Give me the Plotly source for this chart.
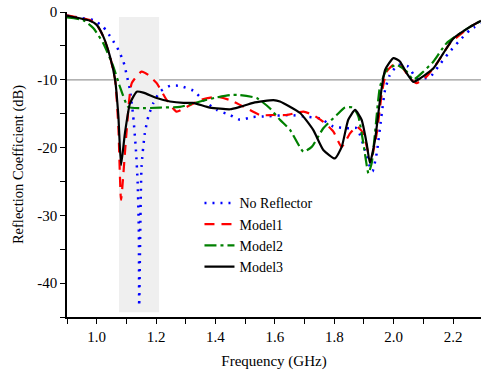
import plotly.graph_objects as go

# No Reflector (blue dotted)
nr_x = [0.90, 0.95, 0.989, 1.022, 1.05, 1.073, 1.09, 1.101, 1.112, 1.123, 1.132, 1.138, 1.142, 1.143,
        1.151, 1.162, 1.174, 1.19, 1.213, 1.247, 1.28, 1.325, 1.359, 1.404, 1.449, 1.482, 1.527, 1.572,
        1.651, 1.696, 1.752, 1.797, 1.842, 1.876, 1.903, 1.92, 1.929, 1.943, 1.96, 1.971, 1.987,
        2.015, 2.049, 2.077, 2.122, 2.15, 2.184, 2.218, 2.257, 2.294]
nr_y = [-0.55, -0.9, -1.2, -2.2, -3.9, -5.6, -7.3, -9.3, -11.5, -15.4, -20.3, -25.3, -32.6, -43.4,
        -22.8, -17.9, -15.4, -13.5, -11.75, -10.9, -10.9, -11.6, -13.0, -14.45, -15.2, -15.9, -15.5, -15.4,
        -15.2, -15.4, -15.7, -16.9, -17.15, -17.15, -20.35, -22.8, -23.5, -20.8, -14.9, -11.5, -9.3,
        -7.8, -8.05, -9.8, -9.6, -8.05, -6.1, -4.4, -2.65, -1.7]

# Model1 (red dashed)
m1_x = [0.90, 0.977, 1.0, 1.022, 1.045, 1.062, 1.073, 1.082, 1.10, 1.118, 1.151, 1.174, 1.202, 1.236,
        1.269, 1.303, 1.348, 1.404, 1.449, 1.505, 1.55, 1.595, 1.64, 1.696, 1.729, 1.763, 1.797, 1.825,
        1.853, 1.876, 1.898, 1.915, 1.926, 1.943, 1.96, 1.976, 1.999, 2.027, 2.055, 2.077, 2.111,
        2.145, 2.19, 2.257, 2.294]
m1_y = [-0.5, -1.2, -1.9, -3.6, -6.6, -10.0, -17.0, -27.7, -18.0, -10.5, -8.8, -9.3, -10.5, -13.0,
        -14.7, -14.0, -13.0, -12.5, -13.0, -14.2, -15.2, -15.2, -15.2, -14.7, -15.2, -16.2, -17.65, -19.9,
        -17.9, -16.9, -17.9, -20.8, -21.3, -17.9, -12.0, -8.8, -7.8, -8.1, -9.8, -10.5, -9.5,
        -7.6, -4.6, -2.2, -1.3]

# Model2 (green dash-dot)
m2_x = [0.90, 0.955, 0.989, 1.022, 1.056, 1.078, 1.106, 1.146, 1.213, 1.28, 1.348, 1.404, 1.449, 1.482,
        1.539, 1.583, 1.617, 1.651, 1.696, 1.724, 1.763, 1.808, 1.836, 1.864, 1.881, 1.898, 1.915,
        1.926, 1.937, 1.954, 1.976, 2.01, 2.044, 2.066, 2.10, 2.134, 2.178, 2.257, 2.294]
m2_y = [-0.8, -1.2, -2.4, -4.6, -8.05, -11.0, -14.0, -14.2, -14.1, -14.0, -13.2, -12.6, -12.25, -12.25,
        -12.7, -14.2, -15.9, -17.4, -20.6, -19.9, -17.15, -15.2, -14.1, -14.1, -15.4, -19.4, -23.8,
        -22.3, -17.9, -11.0, -8.55, -7.8, -8.8, -10.0, -8.8, -7.3, -4.6, -2.2, -1.3]

# Model3 (black solid)
m3_x = [0.90, 0.977, 1.0, 1.022, 1.045, 1.062, 1.073, 1.082, 1.095, 1.112, 1.135, 1.157, 1.202, 1.247,
        1.292, 1.325, 1.381, 1.449, 1.482, 1.527, 1.595, 1.617, 1.685, 1.729, 1.763, 1.802, 1.825,
        1.847, 1.87, 1.892, 1.909, 1.92, 1.937, 1.954, 1.971, 1.999, 2.021, 2.044, 2.066, 2.089,
        2.134, 2.167, 2.201, 2.257, 2.294]
m3_y = [-0.55, -1.28, -1.9, -3.6, -6.6, -10.0, -15.4, -22.6, -17.9, -13.5, -11.75, -11.9, -12.7, -13.2,
        -13.4, -13.4, -14.1, -14.35, -14.0, -13.4, -13.0, -13.2, -14.9, -17.4, -20.35, -21.6, -19.9,
        -15.9, -14.45, -15.9, -19.4, -22.3, -18.9, -13.0, -8.55, -6.8, -7.3, -9.05, -10.3, -9.8,
        -8.3, -6.1, -3.9, -2.2, -1.3]

x_ticks = [1.0, 1.2, 1.4, 1.6, 1.8, 2.0, 2.2]
y_ticks = [0, -10, -20, -30, -40]

FONT = "Liberation Serif, Times New Roman, serif"

fig = go.Figure()
fig.add_shape(type="rect", xref="x", yref="y", x0=1.075, x1=1.21, y0=-44.3, y1=-0.75,
              fillcolor="#efefef", line=dict(width=0), layer="below")
fig.add_shape(type="line", xref="paper", yref="y", x0=0, x1=1, y0=-10, y1=-10,
              line=dict(color="#999999", width=1.2), layer="below")

fig.add_trace(go.Scatter(x=nr_x, y=nr_y, name="No Reflector", mode="lines",
                         line=dict(color="#0000ff", width=2.5, dash="2px,6px", shape="spline", smoothing=0.5)))
fig.add_trace(go.Scatter(x=m1_x, y=m1_y, name="Model1", mode="lines",
                         line=dict(color="#ff0000", width=2.2, dash="10px,7px", shape="spline", smoothing=0.5)))
fig.add_trace(go.Scatter(x=m2_x, y=m2_y, name="Model2", mode="lines",
                         line=dict(color="#008000", width=2.2, dash="12px,4px,3px,4px", shape="spline", smoothing=0.5)))
fig.add_trace(go.Scatter(x=m3_x, y=m3_y, name="Model3", mode="lines",
                         line=dict(color="#000000", width=2.2, shape="spline", smoothing=0.5)))

fig.update_layout(
    width=481, height=376,
    margin=dict(l=67, r=0, t=12, b=59),
    paper_bgcolor="white", plot_bgcolor="white",
    font=dict(family=FONT, size=15, color="black"),
    showlegend=True,
    legend=dict(x=0.32, y=0.425, xanchor="left", yanchor="top", bgcolor="rgba(0,0,0,0)",
                font=dict(family=FONT, size=14), tracegroupgap=0, itemwidth=30),
    xaxis=dict(range=[0.9, 2.294], tickvals=x_ticks, ticktext=["%.1f" % v for v in x_ticks],
               showgrid=False, zeroline=False, showline=True, linecolor="black", linewidth=1.5,
               ticks="outside", ticklen=5, tickwidth=1.2, tickcolor="black",
               tickfont=dict(family=FONT, size=15),
               minor=dict(dtick=0.1, tick0=0.9, ticks="outside", ticklen=5, tickwidth=1.2, tickcolor="black"),
               title=dict(text="Frequency (GHz)", font=dict(family=FONT, size=15), standoff=12)),
    yaxis=dict(range=[-45, 0], tickvals=y_ticks, ticktext=[str(v) for v in y_ticks],
               showgrid=False, zeroline=False, showline=True, linecolor="black", linewidth=1.5,
               ticks="outside", ticklen=5, tickwidth=1.2, tickcolor="black",
               tickfont=dict(family=FONT, size=15),
               minor=dict(dtick=5, tick0=0, ticks="outside", ticklen=5, tickwidth=1.2, tickcolor="black"),
               title=dict(text="Reflection Coefficient (dB)", font=dict(family=FONT, size=14.5), standoff=10)),
)

fig.write_html("out.html")
